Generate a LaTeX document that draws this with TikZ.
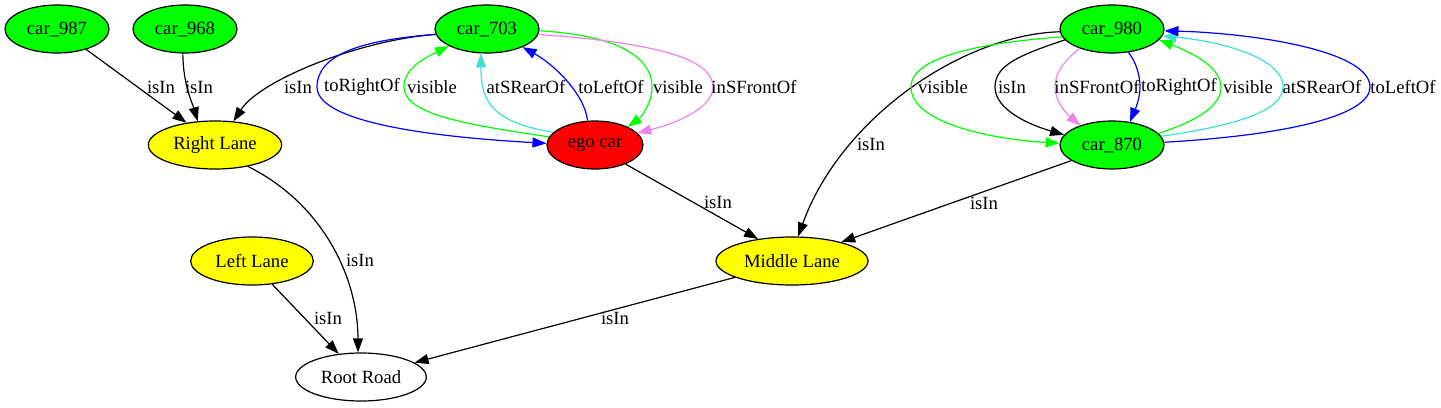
\documentclass[tikz,border=0pt]{standalone}
\usepackage{fontspec}
\setmainfont{Liberation Serif}
\usetikzlibrary{shapes.geometric,arrows.meta}
\definecolor{gvgreen}{HTML}{00FF00}
\definecolor{gvred}{HTML}{FF0000}
\definecolor{gvyellow}{HTML}{FFFF00}
\definecolor{gvblue}{HTML}{0000FF}
\definecolor{gvturq}{HTML}{40E0D0}
\definecolor{gvviolet}{HTML}{EE82EE}
\begin{document}
\begin{tikzpicture}[x=0.75pt,y=-0.75pt,
  every node/.style={font=\fontsize{14}{16}\selectfont},
  gnode/.style={ellipse,draw=black,line width=0.9pt,inner sep=0pt,minimum height=36pt},
  car/.style={gnode,fill=gvgreen,minimum width=78pt},
  lane/.style={gnode,fill=gvyellow},
  arr/.style={line width=0.9pt,-{Triangle[length=10.5pt,width=7.5pt]}},
  lbl/.style={inner sep=0pt}]
\useasboundingbox (0,0) rectangle (1441,407);

% nodes
\node[car] (car987) at (57,29) {car\_987};
\node[car] (car968) at (185,29) {car\_968};
\node[car] (car703) at (487,29) {car\_703};
\node[car] (car980) at (1112,29) {car\_980};
\node[lane,minimum width=100pt] (rl) at (215,145) {Right Lane};
\node[gnode,fill=gvred,minimum width=72pt] (ego) at (595,145) {ego car};
\node[car] (car870) at (1112,145) {car\_870};
\node[lane,minimum width=92pt] (ll) at (252,261) {Left Lane};
\node[lane,minimum width=114pt] (ml) at (792,261) {Middle Lane};
\node[gnode,fill=white,minimum width=98pt] (root) at (361,377) {Root Road};

% edges: left part
\draw[arr] (car987.325) -- (rl.142);
\draw[arr] (car968.265) .. controls (183,85) and (193,105) .. (rl.126);
\draw[arr] (car703.186) .. controls (360,40) and (260,80) .. (rl.52);
\draw[arr,gvblue] (car703.186) .. controls (360,40) and (317,55) .. (317,87)
   .. controls (317,125) and (450,138) .. (ego.178);
\draw[arr,gvgreen] (ego.170) .. controls (470,125) and (404,115) .. (404,87)
   .. controls (404,68) and (425,58) .. (car703.204);
\draw[arr,gvturq] (ego.163) .. controls (490,122) and (481,100) .. (car703.256);
\draw[arr,gvblue] (ego.107) .. controls (585,95) and (555,65) .. (car703.333);
\draw[arr,gvgreen] (car703.358) .. controls (600,34) and (652,50) .. (652,87)
   .. controls (652,105) and (640,118) .. (ego.29);
\draw[arr,gvviolet] (car703.354) .. controls (640,42) and (713,55) .. (713,87)
   .. controls (713,110) and (670,125) .. (ego.16);

% lower edges
\draw[arr] (rl.327.5) .. controls (325,205) and (358,280) .. (root.97);
\draw[arr] (ll.311) -- (root.134);
\draw[arr] (ml.196) -- (root.15);
\draw[arr] (ego.328) -- (ml.147);
\draw[arr] (car870.201) -- (ml.21);
\draw[arr] (car980.183) .. controls (960,35) and (840,120) .. (ml.76);

% right part
\draw[arr,gvgreen] (car980.189) .. controls (990,42) and (911,55) .. (911,87)
   .. controls (911,125) and (1000,140) .. (car870.178);
\draw[arr] (car980.193) .. controls (1020,55) and (995,65) .. (995,87)
   .. controls (995,110) and (1030,125) .. (car870.168);
\draw[arr,gvviolet] (car980.211) .. controls (1065,60) and (1055,72) .. (1055,87)
   .. controls (1055,102) and (1068,115) .. (car870.148);
\draw[arr,gvblue] (car980.305) .. controls (1136,62) and (1140,75) .. (1140,87)
   .. controls (1140,100) and (1134,112) .. (car870.52);
\draw[arr,gvgreen] (car870.14) .. controls (1200,120) and (1221,105) .. (1221,87)
   .. controls (1221,65) and (1185,50) .. (car980.347);
\draw[arr,gvturq] (car870.10) .. controls (1240,125) and (1283,110) .. (1283,87)
   .. controls (1283,55) and (1210,40) .. (car980.352);
\draw[arr,gvblue] (car870.3) .. controls (1290,135) and (1370,115) .. (1370,87)
   .. controls (1370,50) and (1250,33) .. (car980.358);

% labels
\node[lbl] (l1) at (161,87) {isIn};
\node[lbl] (l2) at (199,87) {isIn};
\node[lbl] (l3) at (298,87) {isIn};
\node[lbl] (l4) at (362,87) {toRightOf};
\node[lbl] (l5) at (432,87) {visible};
\node[lbl] (l6) at (526,87) {atSRearOf};
\node[lbl] (l7) at (611,87) {toLeftOf};
\node[lbl] (l8) at (678,87) {visible};
\node[lbl] (l9) at (754,87) {inSFrontOf};
\node[lbl] (l10) at (360,260) {isIn};
\node[lbl] (l11) at (328,318) {isIn};
\node[lbl] (l12) at (615,318) {isIn};
\node[lbl] (l13) at (718,202) {isIn};
\node[lbl] (l14) at (871,144) {isIn};
\node[lbl] (l15) at (984,203) {isIn};
\node[lbl] (l16) at (943,87) {visible};
\node[lbl] (l17) at (1012,87) {isIn};
\node[lbl] (l18) at (1097,87) {inSFrontOf};
\node[lbl] (l19) at (1179,87) {toRightOf};
\node[lbl] (l20) at (1248,87) {visible};
\node[lbl] (l21) at (1322,87) {atSRearOf};
\node[lbl] (l22) at (1403,87) {toLeftOf};
\end{tikzpicture}
\end{document}
